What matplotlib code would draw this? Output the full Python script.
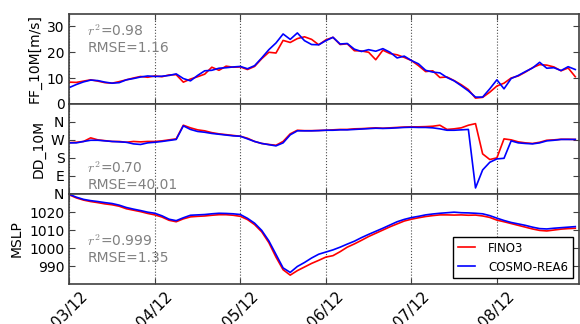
import pandas as pd
import matplotlib.pyplot as plt
import matplotlib.dates as mdates

# 2-hourly samples starting 03/12 00:00
times = pd.date_range("2015-12-03 00:00", periods=72, freq="2h")

# 10 m wind speed [m/s]
ff_fino3 = [8.4, 8.3, 8.8, 9.3, 8.8, 8.2, 8.0, 8.6, 9.3, 10.0, 10.6, 10.3,
            10.8, 10.5, 11.2, 11.3, 8.4, 9.6, 10.5, 11.5, 14.2, 13.0, 14.6, 14.2,
            14.3, 13.3, 14.5, 17.5, 20.0, 19.7, 24.6, 23.8, 25.3, 26.0, 25.0, 22.9,
            24.8, 25.8, 23.0, 23.3, 20.6, 20.5, 20.0, 17.1, 20.8, 19.5, 19.0, 18.0,
            16.8, 14.8, 12.5, 12.8, 10.2, 10.4, 9.0, 7.4, 5.5, 2.2, 2.5, 4.5,
            6.9, 8.0, 10.0, 10.8, 12.3, 14.0, 15.2, 15.0, 14.3, 12.8, 13.9, 10.5]
ff_cosmo = [6.3, 7.5, 8.5, 9.2, 9.0, 8.4, 8.0, 8.2, 9.3, 9.8, 10.4, 10.8,
            10.6, 10.7, 11.0, 11.6, 9.8, 8.9, 11.0, 12.8, 13.0, 13.8, 14.0, 14.3,
            14.5, 13.6, 14.8, 17.8, 21.0, 23.6, 27.1, 25.0, 27.5, 24.5, 23.0, 22.9,
            24.5, 25.8, 23.2, 23.4, 21.2, 20.3, 21.0, 20.4, 21.4, 20.0, 17.8, 18.5,
            16.8, 15.5, 13.0, 12.3, 12.0, 10.2, 8.9, 7.0, 5.0, 2.6, 2.6, 5.8,
            9.3, 5.8, 9.8, 11.0, 12.5, 13.9, 16.1, 13.8, 14.0, 12.9, 14.4, 13.3]

# 10 m wind direction [deg]
dd_fino3 = [256, 258, 262, 280, 270, 266, 262, 262, 258, 262, 260, 262,
            262, 265, 270, 275, 343, 330, 320, 315, 306, 300, 296, 292,
            288, 278, 262, 252, 247, 243, 262, 300, 318, 316, 316, 317,
            318, 320, 322, 322, 325, 326, 328, 330, 328, 330, 332, 334,
            335, 335, 336, 338, 343, 322, 325, 330, 343, 351, 200, 172,
            180, 275, 270, 260, 255, 252, 258, 268, 270, 273, 273, 272]
dd_cosmo = [255, 255, 262, 268, 268, 265, 262, 260, 258, 250, 247, 255,
            258, 262, 267, 272, 340, 322, 312, 308, 302, 298, 294, 290,
            288, 275, 262, 252, 246, 240, 255, 295, 315, 315, 315, 316,
            318, 318, 320, 320, 322, 324, 326, 328, 327, 328, 330, 332,
            333, 332, 332, 330, 325, 318, 318, 320, 322, 30, 120, 158,
            175, 178, 265, 255, 252, 250, 255, 265, 268, 272, 272, 272]

# mean sea level pressure [hPa]
mslp_fino3 = [1029.5, 1027.8, 1026.6, 1025.8, 1025.2, 1024.5, 1024.0, 1023.2, 1021.8, 1021.0, 1020.2, 1019.2,
              1018.4, 1017.2, 1015.4, 1014.6, 1016.2, 1017.3, 1017.6, 1017.8, 1018.2, 1018.5, 1018.5, 1018.2,
              1017.6, 1015.8, 1013.0, 1009.0, 1003.0, 995.0, 988.0, 985.0, 987.5, 989.5, 991.5, 993.2,
              995.0, 995.8, 998.0, 1000.5, 1002.3, 1004.3, 1006.4, 1008.2, 1010.0, 1011.8, 1013.4, 1015.0,
              1016.0, 1016.8, 1017.5, 1018.0, 1018.4, 1018.4, 1018.3, 1018.4, 1018.2, 1018.3, 1017.8, 1017.0,
              1015.5, 1014.6, 1013.6, 1012.6, 1011.6, 1010.6, 1009.8, 1009.5, 1010.0, 1010.5, 1010.8, 1011.0]
mslp_cosmo = [1029.8, 1028.2, 1027.0, 1026.3, 1025.8, 1025.2, 1024.7, 1023.8, 1022.5, 1021.6, 1020.8, 1019.9,
              1019.3, 1017.9, 1016.0, 1015.2, 1016.8, 1018.2, 1018.4, 1018.6, 1019.0, 1019.3, 1019.2, 1019.0,
              1018.6, 1016.5, 1013.8, 1009.8, 1004.0, 996.5, 989.0, 986.5, 989.8, 992.0, 994.5, 996.6,
              997.8, 999.0, 1000.5, 1002.2, 1003.8, 1005.8, 1007.6, 1009.3, 1011.0, 1012.8, 1014.6, 1015.9,
              1016.9, 1017.6, 1018.4, 1018.9, 1019.3, 1019.6, 1019.9, 1019.6, 1019.5, 1019.3, 1019.0, 1018.0,
              1016.6, 1015.3, 1014.2, 1013.4, 1012.6, 1011.6, 1010.8, 1010.6, 1011.0, 1011.3, 1011.6, 1011.9]

r2_values = ["0.98", "0.70", "0.999"]
rmse_values = ["1.16", "40.01", "1.35"]
dir_ticks = [0, 90, 180, 270, 360]
dir_labels = ["N", "E", "S", "W", "N"]

plt.rcParams["font.size"] = 10

fig, axes = plt.subplots(3, 1, sharex=True, figsize=(5.8, 3.24), dpi=100)
fig.subplots_adjust(left=0.1195, right=0.998, top=0.958, bottom=0.123, hspace=0)

series = [(ff_fino3, ff_cosmo), (dd_fino3, dd_cosmo), (mslp_fino3, mslp_cosmo)]
for ax, (fino, cosmo) in zip(axes, series):
    ax.plot(times, fino, color="#ff0000", lw=1.2, label="FINO3")
    ax.plot(times, cosmo, color="#0000ff", lw=1.2, label="COSMO-REA6")
    ax.xaxis.grid(True, linestyle=":", color="0.3", lw=0.8)
    ax.tick_params(direction="in", top=True, right=True, length=4, color="0.25")
    for sp in ax.spines.values():
        sp.set_color("0.25")
        sp.set_linewidth(1.2)

ax1, ax2, ax3 = axes

ax1.set_ylim(0, 35)
ax1.set_yticks([0, 10, 20, 30])
ax1.set_ylabel("FF_10M[m/s]")

ax2.set_ylim(0, 450)
ax2.set_yticks(dir_ticks)
ax2.set_yticklabels(dir_labels)
ax2.set_ylabel("DD_10M")

ax3.set_ylim(980, 1030)
ax3.set_yticks([990, 1000, 1010, 1020])
ax3.set_ylabel("MSLP")

# fit statistics
txt_pos = [(0.89, "top"), (0.02, "bottom"), (0.565, "top")]
for ax, r2, rmse, (ty, va) in zip(axes, r2_values, rmse_values, txt_pos):
    ax.text(0.035, ty, "$r^2$=" + r2 + "\nRMSE=" + rmse, transform=ax.transAxes,
            color="0.5", fontsize=10, va=va, ha="left", math_fontfamily="cm")

ax3.legend(loc="lower right", fontsize=8.5, fancybox=False, framealpha=1,
           edgecolor="black", handlelength=1.5, handletextpad=1.1)

ax3.set_xlim(times[0], times[0] + pd.Timedelta(hours=143))
ax3.xaxis.set_major_locator(mdates.DayLocator())
ax3.xaxis.set_major_formatter(mdates.DateFormatter("%d/%m"))
plt.setp(ax3.get_xticklabels(), rotation=45, ha="center", fontsize=11)

fig.savefig("out.png", dpi=100)
